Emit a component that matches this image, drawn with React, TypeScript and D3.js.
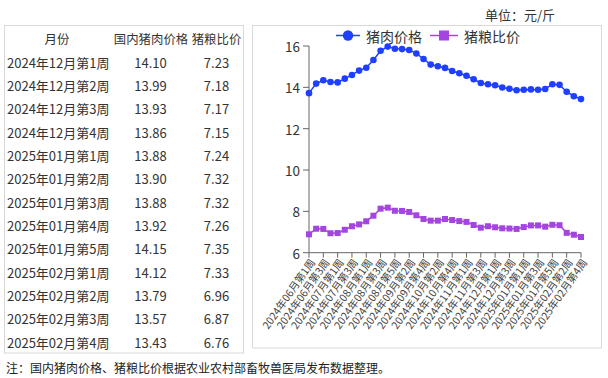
import React from 'react';
import * as d3 from 'd3';

const weeks: string[] = [
  '2024年06月第1周','2024年06月第2周','2024年06月第3周','2024年06月第4周',
  '2024年07月第1周','2024年07月第2周','2024年07月第3周','2024年07月第4周',
  '2024年08月第1周','2024年08月第2周','2024年08月第3周','2024年08月第4周','2024年08月第5周',
  '2024年09月第1周','2024年09月第2周','2024年09月第3周','2024年09月第4周',
  '2024年10月第1周','2024年10月第2周','2024年10月第3周','2024年10月第4周','2024年10月第5周',
  '2024年11月第1周','2024年11月第2周','2024年11月第3周','2024年11月第4周',
  '2024年12月第1周','2024年12月第2周','2024年12月第3周','2024年12月第4周',
  '2025年01月第1周','2025年01月第2周','2025年01月第3周','2025年01月第4周','2025年01月第5周',
  '2025年02月第1周','2025年02月第2周','2025年02月第3周','2025年02月第4周',
];

const porkPrice: number[] = [
  13.72, 14.18, 14.34, 14.26, 14.24, 14.42, 14.6, 14.81, 14.95, 15.32, 15.77, 15.97, 15.87,
  15.85, 15.81, 15.64, 15.37, 15.1, 15.02, 14.94, 14.79, 14.68, 14.56, 14.39, 14.21, 14.15,
  14.10, 13.99, 13.93, 13.86, 13.88, 13.90, 13.88, 13.92, 14.15, 14.12, 13.79, 13.57, 13.43,
];

const hogGrainRatio: number[] = [
  6.89, 7.16, 7.15, 6.94, 6.95, 7.11, 7.28, 7.37, 7.52, 7.79, 8.13, 8.18, 8.03,
  8.02, 7.97, 7.81, 7.63, 7.55, 7.55, 7.63, 7.58, 7.53, 7.49, 7.34, 7.21, 7.28,
  7.23, 7.18, 7.17, 7.15, 7.24, 7.32, 7.32, 7.26, 7.35, 7.33, 6.96, 6.87, 6.76,
];

const tableHeaders: string[] = ['月份', '国内猪肉价格', '猪粮比价'];
const tableMonths: string[] = weeks.slice(26);
const tablePork: string[] = ['14.10','13.99','13.93','13.86','13.88','13.90','13.88','13.92','14.15','14.12','13.79','13.57','13.43'];
const tableRatio: string[] = ['7.23','7.18','7.17','7.15','7.24','7.32','7.32','7.26','7.35','7.33','6.96','6.87','6.76'];

const yTicks: number[] = [6, 8, 10, 12, 14, 16];
const seriesNames: string[] = ['猪肉价格', '猪粮比价'];

const FONT = '"Noto Sans CJK SC", "Noto Sans", sans-serif';
const BLUE = '#1f3fff';
const PURPLE = '#a545e0';
const TEXT = '#333';

export default function App() {
  const x = d3.scalePoint<number>().domain(d3.range(weeks.length)).range([309, 581]);
  const y = d3.scaleLinear().domain([6, 16]).range([252.7, 46]);
  const line = d3.line<number>().x((_, i) => x(i)!).y((d) => y(d));

  const rowY = (i: number) => 62 + i * 23.36;

  return (
    <svg width={608} height={378} style={{ position: 'absolute', left: 0, top: 0, background: '#fff' }} fontFamily={FONT}>
      {/* Table panel */}
      <rect x={4.5} y={25.5} width={239} height={327.5} fill="#fff" stroke="#d9d9d9" />
      <g fontSize={13} fill={TEXT}>
        <g fontSize={12.4}>
          <text x={57} y={38.5} textAnchor="middle" dominantBaseline="central">{tableHeaders[0]}</text>
          <text x={151} y={38.5} textAnchor="middle" dominantBaseline="central">{tableHeaders[1]}</text>
          <text x={216.5} y={38.5} textAnchor="middle" dominantBaseline="central">{tableHeaders[2]}</text>
        </g>
        {tableMonths.map((m, i) => (
          <g key={m}>
            <text x={7} y={rowY(i)} dominantBaseline="central">{m}</text>
            <text x={150.5} y={rowY(i)} textAnchor="middle" dominantBaseline="central">{tablePork[i]}</text>
            <text x={216.5} y={rowY(i)} textAnchor="middle" dominantBaseline="central">{tableRatio[i]}</text>
          </g>
        ))}
      </g>

      {/* Unit */}
      <text x={555} y={14} textAnchor="end" dominantBaseline="central" fontSize={13} fill={TEXT}>单位：元/斤</text>

      {/* Chart panel */}
      <rect x={252.5} y={25.5} width={349} height={322.5} fill="#fff" stroke="#d9d9d9" />

      {/* Legend */}
      <g>
        <line x1={336} x2={360} y1={35.5} y2={35.5} stroke={BLUE} strokeWidth={1.5} />
        <circle cx={348} cy={35.5} r={5.2} fill={BLUE} />
        <text x={366} y={35.5} dominantBaseline="central" fontSize={14} fill={TEXT}>{seriesNames[0]}</text>
        <line x1={430} x2={458} y1={35.5} y2={35.5} stroke={PURPLE} strokeWidth={1.5} />
        <rect x={439} y={30.5} width={10} height={10} fill={PURPLE} />
        <text x={464} y={35.5} dominantBaseline="central" fontSize={14} fill={TEXT}>{seriesNames[1]}</text>
      </g>

      {/* Axes */}
      <g stroke="#666" strokeWidth={1} fill="none">
        <line x1={309} x2={309} y1={y(16)} y2={y(6)} />
        {yTicks.map((t) => (
          <line key={t} x1={303} x2={309} y1={y(t)} y2={y(t)} />
        ))}
        <line x1={309} x2={581} y1={y(6)} y2={y(6)} />
        {weeks.map((w, i) => (i % 2 === 0 ? <line key={w} x1={x(i)} x2={x(i)} y1={y(6)} y2={y(6) + 5} /> : null))}
      </g>
      <g fontSize={13.5} fill={TEXT}>
        {yTicks.map((t) => (
          <text key={t} x={300} y={y(t)} textAnchor="end" dominantBaseline="central">{t}</text>
        ))}
      </g>
      <g fontSize={10.5} fill="#444">
        {weeks.map((w, i) =>
          i % 2 === 0 ? (
            <text key={w} transform={`translate(${x(i)! + 3},${y(6) + 7}) rotate(-55)`} textAnchor="end" dominantBaseline="central">{w}</text>
          ) : null
        )}
      </g>

      {/* Series */}
      <path d={line(porkPrice) || ''} fill="none" stroke={BLUE} strokeWidth={1.5} />
      {porkPrice.map((v, i) => (
        <circle key={i} cx={x(i)} cy={y(v)} r={3.3} fill={BLUE} />
      ))}
      <path d={line(hogGrainRatio) || ''} fill="none" stroke={PURPLE} strokeWidth={1.5} />
      {hogGrainRatio.map((v, i) => (
        <rect key={i} x={x(i)! - 3} y={y(v) - 3} width={6} height={6} fill={PURPLE} />
      ))}

      {/* Note */}
      <text x={6} y={367} dominantBaseline="central" fontSize={12} fill="#222">注：国内猪肉价格、猪粮比价根据农业农村部畜牧兽医局发布数据整理。</text>
    </svg>
  );
}
